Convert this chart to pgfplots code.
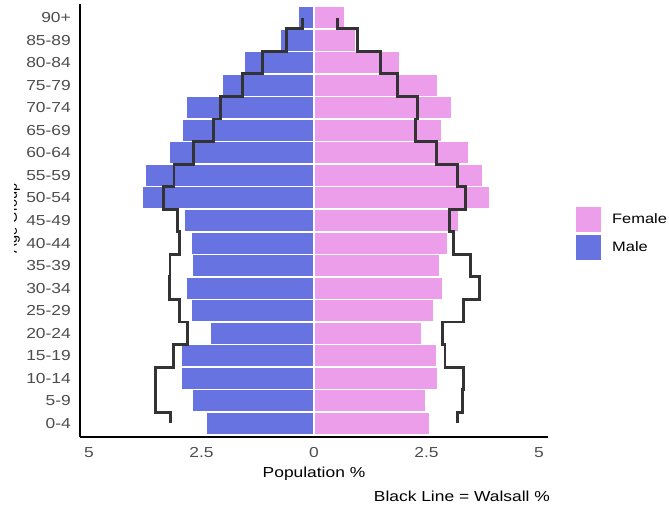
\documentclass[border=0pt]{standalone}
\usepackage{fontspec}
\setmainfont{Liberation Sans}[FakeStretch=1.2]
\newfontfamily\plainsans{Liberation Sans}
\usepackage{pgfplots}
\pgfplotsset{compat=1.18}
\definecolor{malecol}{RGB}{103,115,225}
\definecolor{femcol}{RGB}{236,158,234}
\definecolor{walsall}{RGB}{51,51,51}
\definecolor{ticktxt}{RGB}{77,77,77}
\begin{document}
\begin{tikzpicture}
\begin{axis}[
  name=ax,
  scale only axis, width=468pt, height=433pt,
  xmin=-5.2, xmax=5.2, ymin=-0.6, ymax=18.6,
  axis x line*=bottom, axis y line*=left,
  axis line style={line width=1.1pt, black, -},
  xtick={-5,-2.5,0,2.5,5}, xticklabels={5,2.5,0,2.5,5},
  ytick={0,1,...,18},
  yticklabels={0-4,5-9,10-14,15-19,20-24,25-29,30-34,35-39,40-44,45-49,50-54,55-59,60-64,65-69,70-74,75-79,80-84,85-89,90+},
  major tick length=0pt, tick style={draw=none},
  xticklabel style={font=\fontsize{14.5}{17}\selectfont, text=ticktxt, inner sep=0pt, anchor=center, yshift=-15.5pt},
  yticklabel style={font=\fontsize{14.5}{17}\selectfont, text=ticktxt, inner sep=0pt, anchor=east, xshift=-9pt},
  xlabel={Population \%},
  xlabel style={font=\fontsize{14.5}{17}\selectfont, inner sep=0pt, anchor=center, at={(axis description cs:0.5,0)}, yshift=-37pt},
  legend style={at={(1.0598,0.47)}, anchor=west, draw=none, fill=none, inner sep=0pt, outer sep=0pt, row sep=2.5pt,
    font=\fontsize{13.7}{16}\selectfont, nodes={inner sep=0pt}},
  legend cell align=left,
  legend image code/.code={\fill[#1, draw=none] (0pt,-12.5pt) rectangle (25pt,12.5pt); \path (36pt,0pt);},
]
\addplot[xbar, bar width=1, bar shift=0pt, fill=malecol, draw=white, line width=1.6pt, forget plot] coordinates {
(-2.40,0) (-2.70,1) (-2.96,2) (-2.94,3) (-2.30,4) (-2.73,5) (-2.84,6) (-2.70,7) (-2.73,8) (-2.88,9)
(-3.81,10) (-3.74,11) (-3.22,12) (-2.93,13) (-2.83,14) (-2.04,15) (-1.55,16) (-0.76,17) (-0.35,18)};
\addplot[xbar, bar width=1, bar shift=0pt, fill=femcol, draw=white, line width=1.6pt, forget plot] coordinates {
(2.58,0) (2.49,1) (2.76,2) (2.73,3) (2.39,4) (2.67,5) (2.86,6) (2.80,7) (2.97,8) (3.21,9)
(3.91,10) (3.75,11) (3.44,12) (2.85,13) (3.07,14) (2.75,15) (1.90,16) (0.93,17) (0.69,18)};
\addplot[walsall, line width=2.9pt, line join=miter, forget plot] coordinates {
(-3.18,0) (-3.18,0.5) (-3.53,0.5) (-3.53,2.5) (-3.13,2.5) (-3.13,3.5) (-2.82,3.5) (-2.82,4.5)
(-2.98,4.5) (-2.98,5.5) (-3.22,5.5) (-3.22,6.5) (-3.20,6.5) (-3.20,7.5) (-2.98,7.5) (-2.98,8.5)
(-3.03,8.5) (-3.03,9.5) (-3.35,9.5) (-3.35,10.5) (-3.11,10.5) (-3.11,11.5) (-2.68,11.5) (-2.68,12.5)
(-2.24,12.5) (-2.24,13.5) (-2.07,13.5) (-2.07,14.5) (-1.59,14.5) (-1.59,15.5) (-1.14,15.5) (-1.14,16.5)
(-0.61,16.5) (-0.61,17.5) (-0.25,17.5) (-0.25,18)};
\addplot[walsall, line width=2.9pt, line join=miter, forget plot] coordinates {
(3.18,0) (3.18,0.5) (3.30,0.5) (3.30,1.5) (3.32,1.5) (3.32,2.5) (2.91,2.5) (2.91,3.5) (2.85,3.5) (2.85,4.5)
(3.32,4.5) (3.32,5.5) (3.67,5.5) (3.67,6.5) (3.48,6.5) (3.48,7.5) (3.10,7.5) (3.10,8.5)
(3.02,8.5) (3.02,9.5) (3.37,9.5) (3.37,10.5) (3.18,10.5) (3.18,11.5) (2.73,11.5) (2.73,12.5)
(2.26,12.5) (2.26,13.5) (2.30,13.5) (2.30,14.5) (1.86,14.5) (1.86,15.5) (1.47,15.5) (1.47,16.5)
(0.96,16.5) (0.96,17.5) (0.52,17.5) (0.52,18)};
\addlegendimage{fill=femcol}
\addlegendentry{Female}
\addlegendimage{fill=malecol}
\addlegendentry{Male}
\end{axis}
\node[anchor=east, inner sep=0pt, font=\fontsize{14.5}{17}\selectfont] at ([shift={(2pt,-59pt)}]ax.south east) {Black Line = Walsall \%};
\begin{scope}
\clip ([shift={(-65.5pt,0pt)}]ax.south west) rectangle ([shift={(-40pt,0pt)}]ax.north west);
\node[rotate=90, anchor=base, inner sep=0pt, font=\plainsans\fontsize{14.5}{17}\selectfont] at ([shift={(-63pt,219pt)}]ax.south west) {Age Group};
\end{scope}
\pgfresetboundingbox
\path ([shift={(-80pt,-67pt)}]ax.south west) rectangle ++(669pt,504pt);
\end{tikzpicture}
\end{document}
